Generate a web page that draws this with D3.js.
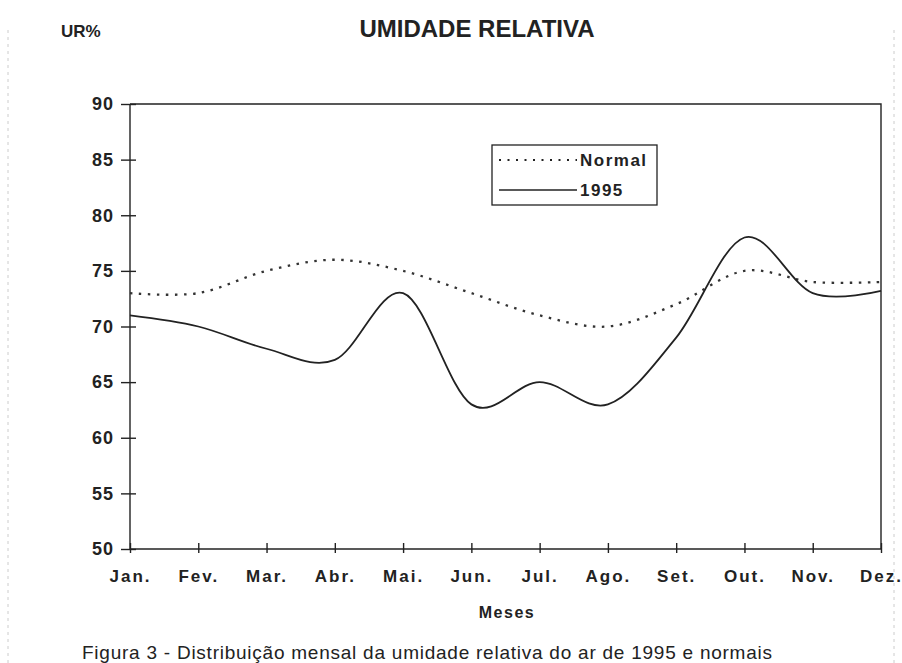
<!DOCTYPE html>
<html>
<head>
<meta charset="utf-8">
<script src="https://cdn.jsdelivr.net/npm/d3@7"></script>
<style>
  body { margin: 0; background: #fff; }
  text { font-family: "Liberation Sans", Arial, sans-serif; fill: #222; }
  .axis path, .axis line { stroke: #222; stroke-width: 1.4; }
</style>
</head>
<body>
<svg id="chart" width="902" height="663"></svg>
<script>
const months = ['Jan.', 'Fev.', 'Mar.', 'Abr.', 'Mai.', 'Jun.', 'Jul.', 'Ago.', 'Set.', 'Out.', 'Nov.', 'Dez.'];
const normal = [73, 73, 75, 76, 75, 73, 71, 70, 72, 75, 74, 74];
const ur1995 = [71, 70, 68, 67, 73, 63, 65, 63, 69, 78, 73, 73.2];
const yTicks = [50, 55, 60, 65, 70, 75, 80, 85, 90];

const svg = d3.select('#chart');
const plotL = 130, plotR = 881, plotT = 104, plotB = 549;

const x = d3.scalePoint().domain(months).range([plotL, plotR]);
const y = d3.scaleLinear().domain([50, 90]).range([plotB, plotT]);

// faint page edges from the scan
svg.append('g')
  .selectAll('line')
  .data([8, 894])
  .enter().append('line')
  .attr('x1', d => d).attr('x2', d => d)
  .attr('y1', 30).attr('y2', 663)
  .style('stroke', '#ccc')
  .style('stroke-dasharray', '3,4');

// titles
svg.append('text')
  .attr('x', 61).attr('y', 37)
  .style('font-size', '17px').style('font-weight', 'bold')
  .text('UR%');
svg.append('text')
  .attr('x', 477).attr('y', 37)
  .attr('text-anchor', 'middle')
  .style('font-size', '24px').style('font-weight', 'bold')
  .text('UMIDADE RELATIVA');

// frame top / right
svg.append('path')
  .attr('d', `M${plotL},${plotT}H${plotR}V${plotB}`)
  .style('fill', 'none').style('stroke', '#222').style('stroke-width', 1.4);

// y axis
const gy = svg.append('g')
  .attr('class', 'axis')
  .attr('transform', `translate(${plotL},0)`)
  .call(d3.axisLeft(y).tickValues(yTicks).tickSize(9).tickPadding(6).tickFormat(d3.format('d')));
gy.selectAll('.tick line').attr('x1', 6);
gy.selectAll('.tick text')
  .style('font-size', '18px').style('font-weight', 'bold')
  .style('letter-spacing', '1px').attr('dx', '-1px');
gy.select('.domain').attr('d', `M0,${plotT}V${plotB}`);

// x axis
const gx = svg.append('g')
  .attr('class', 'axis')
  .attr('transform', `translate(0,${plotB})`)
  .call(d3.axisBottom(x).tickSize(4).tickPadding(17));
gx.selectAll('.tick line').attr('y1', -6);
gx.selectAll('.tick text')
  .style('font-size', '17px').style('font-weight', 'bold')
  .style('letter-spacing', '2px');
gx.select('.domain').attr('d', `M${plotL},0H${plotR}`);

svg.append('text')
  .attr('x', 507).attr('y', 618)
  .attr('text-anchor', 'middle')
  .style('font-size', '16px').style('font-weight', 'bold')
  .style('letter-spacing', '1.5px')
  .text('Meses');

svg.append('text')
  .attr('x', 82).attr('y', 659)
  .attr('textLength', 690)
  .style('font-size', '19px')
  .text('Figura 3 - Distribuição mensal da umidade relativa do ar de 1995 e normais');

// series
const line = d3.line()
  .x((d, i) => x(months[i]))
  .y(d => y(d))
  .curve(d3.curveCardinal.tension(0));

svg.append('path')
  .datum(normal)
  .attr('d', line)
  .style('fill', 'none').style('stroke', '#333')
  .style('stroke-width', 2.3).style('stroke-dasharray', '2.5,6.5');

svg.append('path')
  .datum(ur1995)
  .attr('d', line)
  .style('fill', 'none').style('stroke', '#222')
  .style('stroke-width', 1.8);

// legend
const lg = svg.append('g');
lg.append('rect')
  .attr('x', 492).attr('y', 145).attr('width', 165).attr('height', 60)
  .style('fill', '#fff').style('stroke', '#222').style('stroke-width', 1.3);
const items = [
  {name: 'Normal', dash: '2,6.5', w: 2},
  {name: '1995', dash: null, w: 1.5}
];
const li = lg.selectAll('g')
  .data(items)
  .enter().append('g')
  .attr('transform', (_, i) => `translate(499,${160 + i * 30})`);
li.append('line')
  .attr('x2', 78)
  .style('stroke', '#222')
  .style('stroke-width', d => d.w)
  .style('stroke-dasharray', d => d.dash);
li.append('text')
  .attr('x', 81).attr('dy', '.36em')
  .style('font-size', '17px').style('font-weight', 'bold')
  .style('letter-spacing', '1.5px')
  .text(d => d.name);
</script>
</body>
</html>
